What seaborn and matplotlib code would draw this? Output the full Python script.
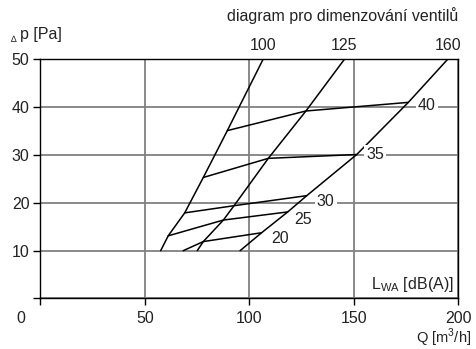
import matplotlib
matplotlib.use("Agg")
import matplotlib.pyplot as plt
import matplotlib.transforms as mtransforms
import seaborn as sns

# valve curves (flow Q [m3/h] vs pressure drop p [Pa])
valve_names = ["100", "125", "160"]
valve_q = [
    [57.5, 61.1, 69.0, 77.9, 89.4, 95.0, 106.5],
    [75.0, 77.9, 87.5, 92.6, 109.0, 127.0, 145.4],
    [95.5, 105.8, 118.3, 127.4, 151.3, 176.0, 194.8],
]
valve_p = [
    [10, 13.1, 17.9, 25.3, 35.1, 40.0, 50],
    [10, 11.9, 16.4, 19.4, 29.3, 39.2, 50],
    [10, 13.75, 18.1, 21.5, 30.1, 41.0, 50],
]

# sound level lines L_WA [dB(A)]
sound_names = ["20", "25", "30", "35", "40"]
sound_q = [
    [68.3, 77.9, 105.8],
    [61.1, 87.5, 118.3],
    [69.0, 92.6, 127.4],
    [77.9, 109.0, 151.3],
    [89.4, 127.0, 176.0],
]
sound_p = [
    [10, 11.9, 13.75],
    [13.1, 16.4, 18.1],
    [17.9, 19.4, 21.5],
    [25.3, 29.3, 30.1],
    [35.1, 39.2, 41.0],
]
# where the dB labels sit
sound_label_q = [114.6, 125.7, 136.5, 160.0, 184.8]
sound_label_p = [12.6, 16.6, 20.2, 30.0, 40.3]

x_ticks = [0, 50, 100, 150, 200]
y_ticks = [0, 10, 20, 30, 40, 50]

sns.set_theme(style="white")
plt.rcParams["font.family"] = ["Liberation Sans", "DejaVu Sans"]
plt.rcParams["mathtext.fontset"] = "custom"
plt.rcParams["mathtext.rm"] = "Liberation Sans"

FS = 11.5
TXT = "#222222"

fig = plt.figure(figsize=(4.77, 3.49), dpi=100)
ax = fig.add_axes([0.0849, 0.1447, 0.8763, 0.6853])

for q, p in zip(valve_q, valve_p):
    sns.lineplot(x=q, y=p, ax=ax, color="black", lw=1.1, sort=False, estimator=None, zorder=3)
for q, p in zip(sound_q, sound_p):
    sns.lineplot(x=q, y=p, ax=ax, color="black", lw=1.1, sort=False, estimator=None, zorder=3)

ax.set_xlim(0, 200)
ax.set_ylim(0, 50)
ax.set_xticks(x_ticks)
ax.set_yticks(y_ticks)
ax.set_yticklabels([""] + [str(t) for t in y_ticks[1:]])
ax.grid(True, color="#808080", lw=1.3, zorder=0)
for s in ax.spines.values():
    s.set_color("black")
    s.set_linewidth(1.0)
ax.tick_params(axis="both", direction="out", length=5, width=1, color="black",
               labelsize=FS, labelcolor=TXT)
ax.tick_params(axis="y", pad=3)
ax.tick_params(axis="x", pad=4)
ax.tick_params(axis="both", which="both", bottom=True, left=True)

# shift the "0" on the x axis to the left of the frame
fig.canvas.draw()
zero_lbl = ax.get_xticklabels()[0]
zero_lbl.set_transform(zero_lbl.get_transform() +
                       mtransforms.ScaledTranslation(-0.2, 0, fig.dpi_scale_trans))

for name, q, p in zip(valve_names, valve_q, valve_p):
    ax.annotate(name, xy=(q[-1], p[-1]), xytext=(0, 10), textcoords="offset points",
                ha="center", va="center", fontsize=FS, color=TXT,
                annotation_clip=False)

for name, q, p in zip(sound_names, sound_label_q, sound_label_p):
    ax.text(q, p, name, ha="center", va="center", fontsize=FS, color=TXT, zorder=4,
            bbox=dict(facecolor="white", edgecolor="none", pad=1.5))

ax.text(0.988, 0.06, r"L$_{\mathrm{WA}}$ [dB(A)]", transform=ax.transAxes,
        ha="right", va="center", fontsize=FS, color=TXT)

fig.text(458 / 477, 1 - 16 / 349, "diagram pro dimenzování ventilů", ha="right", va="center",
         fontsize=FS, color=TXT)
fig.text(11 / 477, 1 - 39 / 349, "∆", ha="left", va="center", fontsize=6.5, color=TXT)
fig.text(20 / 477, 1 - 35 / 349, "p [Pa]", ha="left", va="center", fontsize=FS, color=TXT)
fig.text(471 / 477, 1 - 338 / 349, r"Q [m$^3$/h]", ha="right", va="center",
         fontsize=10.5, color=TXT)

fig.savefig("out.png", dpi=100)
